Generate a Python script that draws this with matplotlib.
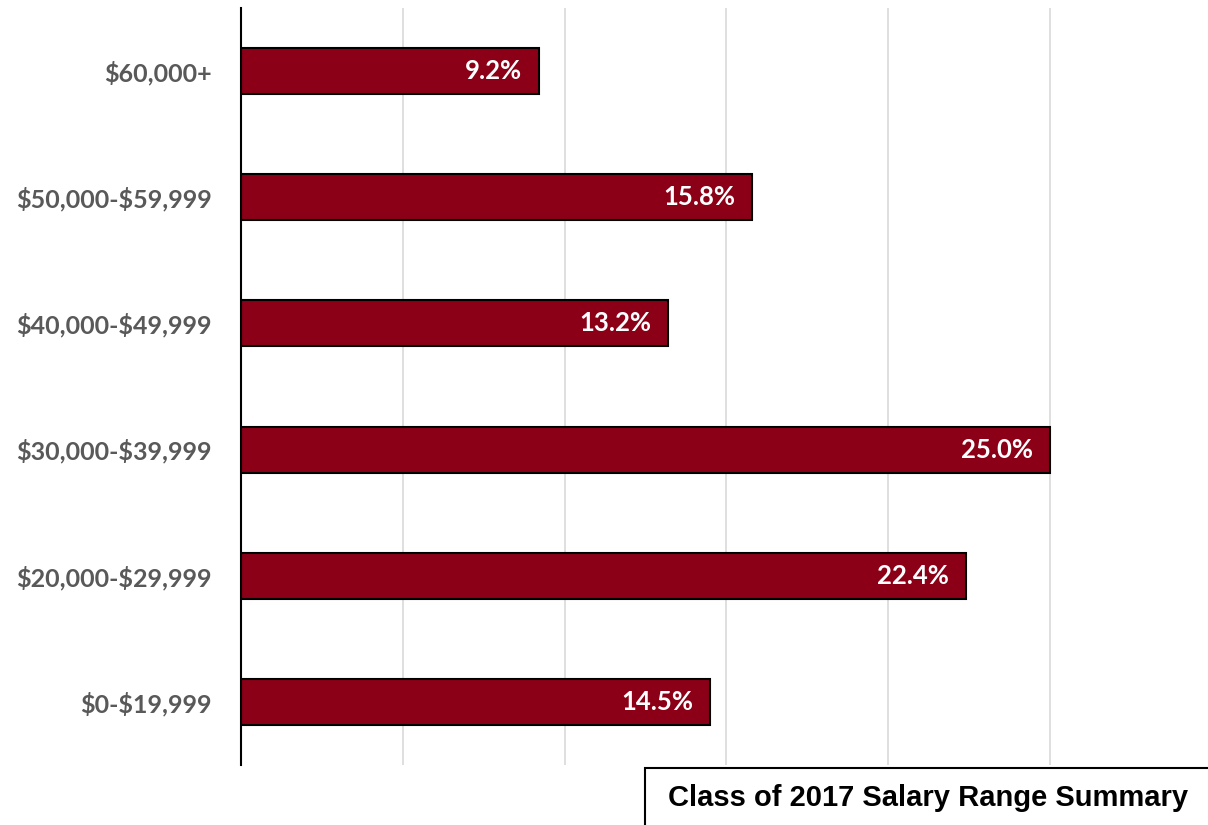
import matplotlib
matplotlib.use('Agg')
import matplotlib.pyplot as plt
from matplotlib.patches import Rectangle

plt.rcParams['text.parse_math'] = False

CATEGORIES = ['$0-$19,999', '$20,000-$29,999', '$30,000-$39,999',
              '$40,000-$49,999', '$50,000-$59,999', '$60,000+']
PERCENTS = [14.5, 22.4, 25.0, 13.2, 15.8, 9.2]
TITLE = 'Class of 2017 Salary Range Summary'

BAR_COLOR = '#8B0016'
LABEL_FONT = ['Lato', 'DejaVu Sans']

W, H = 1208, 825
fig = plt.figure(figsize=(W / 100, H / 100), dpi=100)

ax_left, ax_right = 241, 1208
ax_top, ax_bottom = 8, 765
ax = fig.add_axes([ax_left / W, (H - ax_bottom) / H,
                   (ax_right - ax_left) / W, (ax_bottom - ax_top) / H])

y = range(len(CATEGORIES))
ax.barh(y, PERCENTS, height=0.365, color=BAR_COLOR, edgecolor='black',
        linewidth=1.5, zorder=3)

px_per_unit = 32.36
ax.set_xlim(0, (ax_right - ax_left) / px_per_unit)
ax.set_ylim(-0.5, len(CATEGORIES) - 0.5)
ax.set_xticks([0, 5, 10, 15, 20, 25])
ax.set_xticklabels([])
ax.grid(axis='x', color='#D9D9D9', linewidth=1.2, zorder=0)
ax.tick_params(axis='both', length=0)

ax.set_yticks(list(y))
ax.set_yticklabels(CATEGORIES, fontsize=18, fontweight='bold', color='#595959',
                   family=LABEL_FONT)
ax.tick_params(axis='y', pad=21)

for s in ['top', 'right', 'bottom']:
    ax.spines[s].set_visible(False)
ax.spines['left'].set_linewidth(1.5)
ax.spines['left'].set_zorder(4)

for i, v in enumerate(PERCENTS):
    ax.annotate(f'{v:.1f}%', xy=(v, i), xytext=(-12, 0), textcoords='offset points',
                ha='right', va='center', color='white', fontsize=18.5,
                fontweight='bold', family=LABEL_FONT, zorder=5)

# title box at the lower right
fig.patches.append(Rectangle((645 / W, -0.01), (W - 645 + 10) / W, (H - 768) / H + 0.01,
                             transform=fig.transFigure, facecolor='white',
                             edgecolor='black', linewidth=1.5))
fig.text(928 / W, (H - 798) / H, TITLE, ha='center', va='center',
         fontsize=21, fontweight='bold', family='Liberation Sans')

fig.savefig('out.png', dpi=100)
